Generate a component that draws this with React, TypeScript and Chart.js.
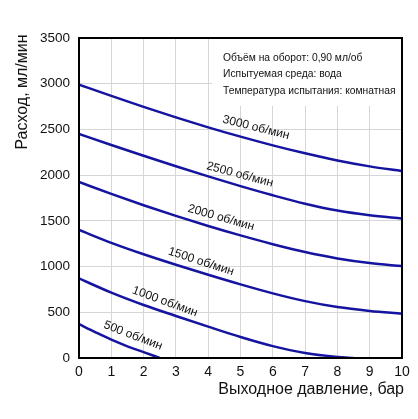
import React, { useEffect, useRef } from "react";
import { Chart, registerables } from "chart.js";

Chart.register(...registerables);

// Pressure (bar) sample points
const pressures = [0, 1, 2, 3, 4, 5, 6, 7, 8, 9, 10];
const pressures1000 = [0, 1, 2, 3, 4, 5, 6, 7, 8, 8.5];
const pressures500 = [0, 0.5, 1, 1.5, 2, 2.5];

// Flow (ml/min) per speed
const flow3000 = [2990, 2867, 2747, 2632, 2523, 2421, 2326, 2239, 2161, 2096, 2045];
const flow2500 = [2450, 2330, 2212, 2097, 1986, 1880, 1780, 1688, 1613, 1561, 1525];
const flow2000 = [1925, 1795, 1671, 1554, 1444, 1341, 1245, 1159, 1089, 1039, 1005];
const flow1500 = [1400, 1260, 1135, 1020, 910, 805, 707, 622, 557, 515, 485];
const flow1000 = [870, 715, 580, 460, 343, 230, 130, 55, 12, 0];
const flow500 = [370, 283, 200, 128, 65, 0];

const speedLabels = ["3000 об/мин", "2500 об/мин", "2000 об/мин", "1500 об/мин", "1000 об/мин", "500 об/мин"];
const labelX = [5.48, 4.98, 4.4, 3.78, 2.66, 1.67];
const labelY = [2520, 2005, 1534, 1054, 616, 245];
const labelAngles = [14, 15, 16, 18, 20, 21];

const infoLines = [
  "Объём на оборот: 0,90 мл/об",
  "Испытуемая среда: вода",
  "Температура испытания: комнатная",
];

const xTitle = "Выходное давление, бар";
const yTitle = "Расход, мл/мин";

const FONT = "'Liberation Sans', Arial, sans-serif";
const LINE_COLOR = "#1414a0";

function toPoints(xs: number[], ys: number[]) {
  return xs.map((x, i) => ({ x, y: ys[i] }));
}

const decorPlugin = {
  id: "decor",
  beforeDatasetsDraw(chart: any) {
    const { ctx, chartArea } = chart;
    const boxLeft = chartArea.right - 190;
    const boxBottom = chartArea.top + 68;
    ctx.save();
    ctx.fillStyle = "#ffffff";
    ctx.fillRect(boxLeft, chartArea.top, chartArea.right - boxLeft, boxBottom - chartArea.top);
    ctx.fillStyle = "#111";
    ctx.font = `10.3px ${FONT}`;
    ctx.textAlign = "left";
    ctx.textBaseline = "alphabetic";
    const baselines = [23, 39, 56];
    infoLines.forEach((line, i) => {
      ctx.fillText(line, boxLeft + 11, chartArea.top + baselines[i]);
    });
    ctx.restore();
  },
  afterDatasetsDraw(chart: any) {
    const { ctx, chartArea, scales } = chart;
    ctx.save();
    // curve labels
    ctx.fillStyle = "#111";
    ctx.font = `12px ${FONT}`;
    ctx.textAlign = "center";
    ctx.textBaseline = "middle";
    speedLabels.forEach((t, i) => {
      const px = scales.x.getPixelForValue(labelX[i]);
      const py = scales.y.getPixelForValue(labelY[i]);
      ctx.save();
      ctx.translate(px, py);
      ctx.rotate((labelAngles[i] * Math.PI) / 180);
      ctx.fillText(t, 0, 0);
      ctx.restore();
    });
    // frame
    ctx.strokeStyle = "#000";
    ctx.lineWidth = 2;
    ctx.strokeRect(chartArea.left, chartArea.top, chartArea.right - chartArea.left, chartArea.bottom - chartArea.top);
    // y title
    ctx.fillStyle = "#111";
    ctx.font = `16px ${FONT}`;
    ctx.textAlign = "center";
    ctx.textBaseline = "middle";
    ctx.translate(23, 92);
    ctx.rotate(-Math.PI / 2);
    ctx.fillText(yTitle, 0, 0);
    ctx.restore();
    // x title
    ctx.save();
    ctx.fillStyle = "#111";
    ctx.font = `16px ${FONT}`;
    ctx.textAlign = "right";
    ctx.textBaseline = "middle";
    ctx.fillText(xTitle, chartArea.right + 2, 390);
    ctx.restore();
  },
};

export default function App() {
  const ref = useRef<HTMLCanvasElement | null>(null);
  useEffect(() => {
    if (!ref.current) return;
    const ds = (xs: number[], ys: number[]) => ({
      data: toPoints(xs, ys),
      borderColor: LINE_COLOR,
      borderWidth: 2.5,
      pointRadius: 0,
      fill: false,
      cubicInterpolationMode: "monotone" as const,
    });
    const chart = new Chart(ref.current, {
      type: "line",
      data: {
        datasets: [
          ds(pressures, flow3000),
          ds(pressures, flow2500),
          ds(pressures, flow2000),
          ds(pressures, flow1500),
          ds(pressures1000, flow1000),
          ds(pressures500, flow500),
        ],
      },
      options: {
        animation: false,
        responsive: false,
        events: [],
        layout: { padding: { top: 38, right: 16, left: 0, bottom: 0 } },
        plugins: { legend: { display: false }, tooltip: { enabled: false } },
        scales: {
          x: {
            type: "linear",
            min: 0,
            max: 10,
            afterFit: (s: any) => {
              s.height = 61;
            },
            ticks: {
              stepSize: 1,
              padding: 6,
              color: "#111",
              font: { size: 14, family: FONT },
              callback: (v: any) => String(v),
            },
            grid: { color: "#d6d6d6", drawTicks: false, lineWidth: 1 },
            border: { display: false },
          },
          y: {
            type: "linear",
            min: 0,
            max: 3500,
            afterFit: (s: any) => {
              s.width = 79;
            },
            ticks: {
              stepSize: 500,
              padding: 9,
              color: "#111",
              font: { size: 13.5, family: FONT },
              callback: (v: any) => String(v),
            },
            grid: { color: "#d6d6d6", drawTicks: false, lineWidth: 1 },
            border: { display: false },
          },
        },
      },
      plugins: [decorPlugin],
    });
    return () => chart.destroy();
  }, []);
  return (
    <div style={{ position: "fixed", left: 0, top: 0, width: 418, height: 419, background: "#fff" }}>
      <canvas ref={ref} width={418} height={419} style={{ width: 418, height: 419 }} />
    </div>
  );
}
